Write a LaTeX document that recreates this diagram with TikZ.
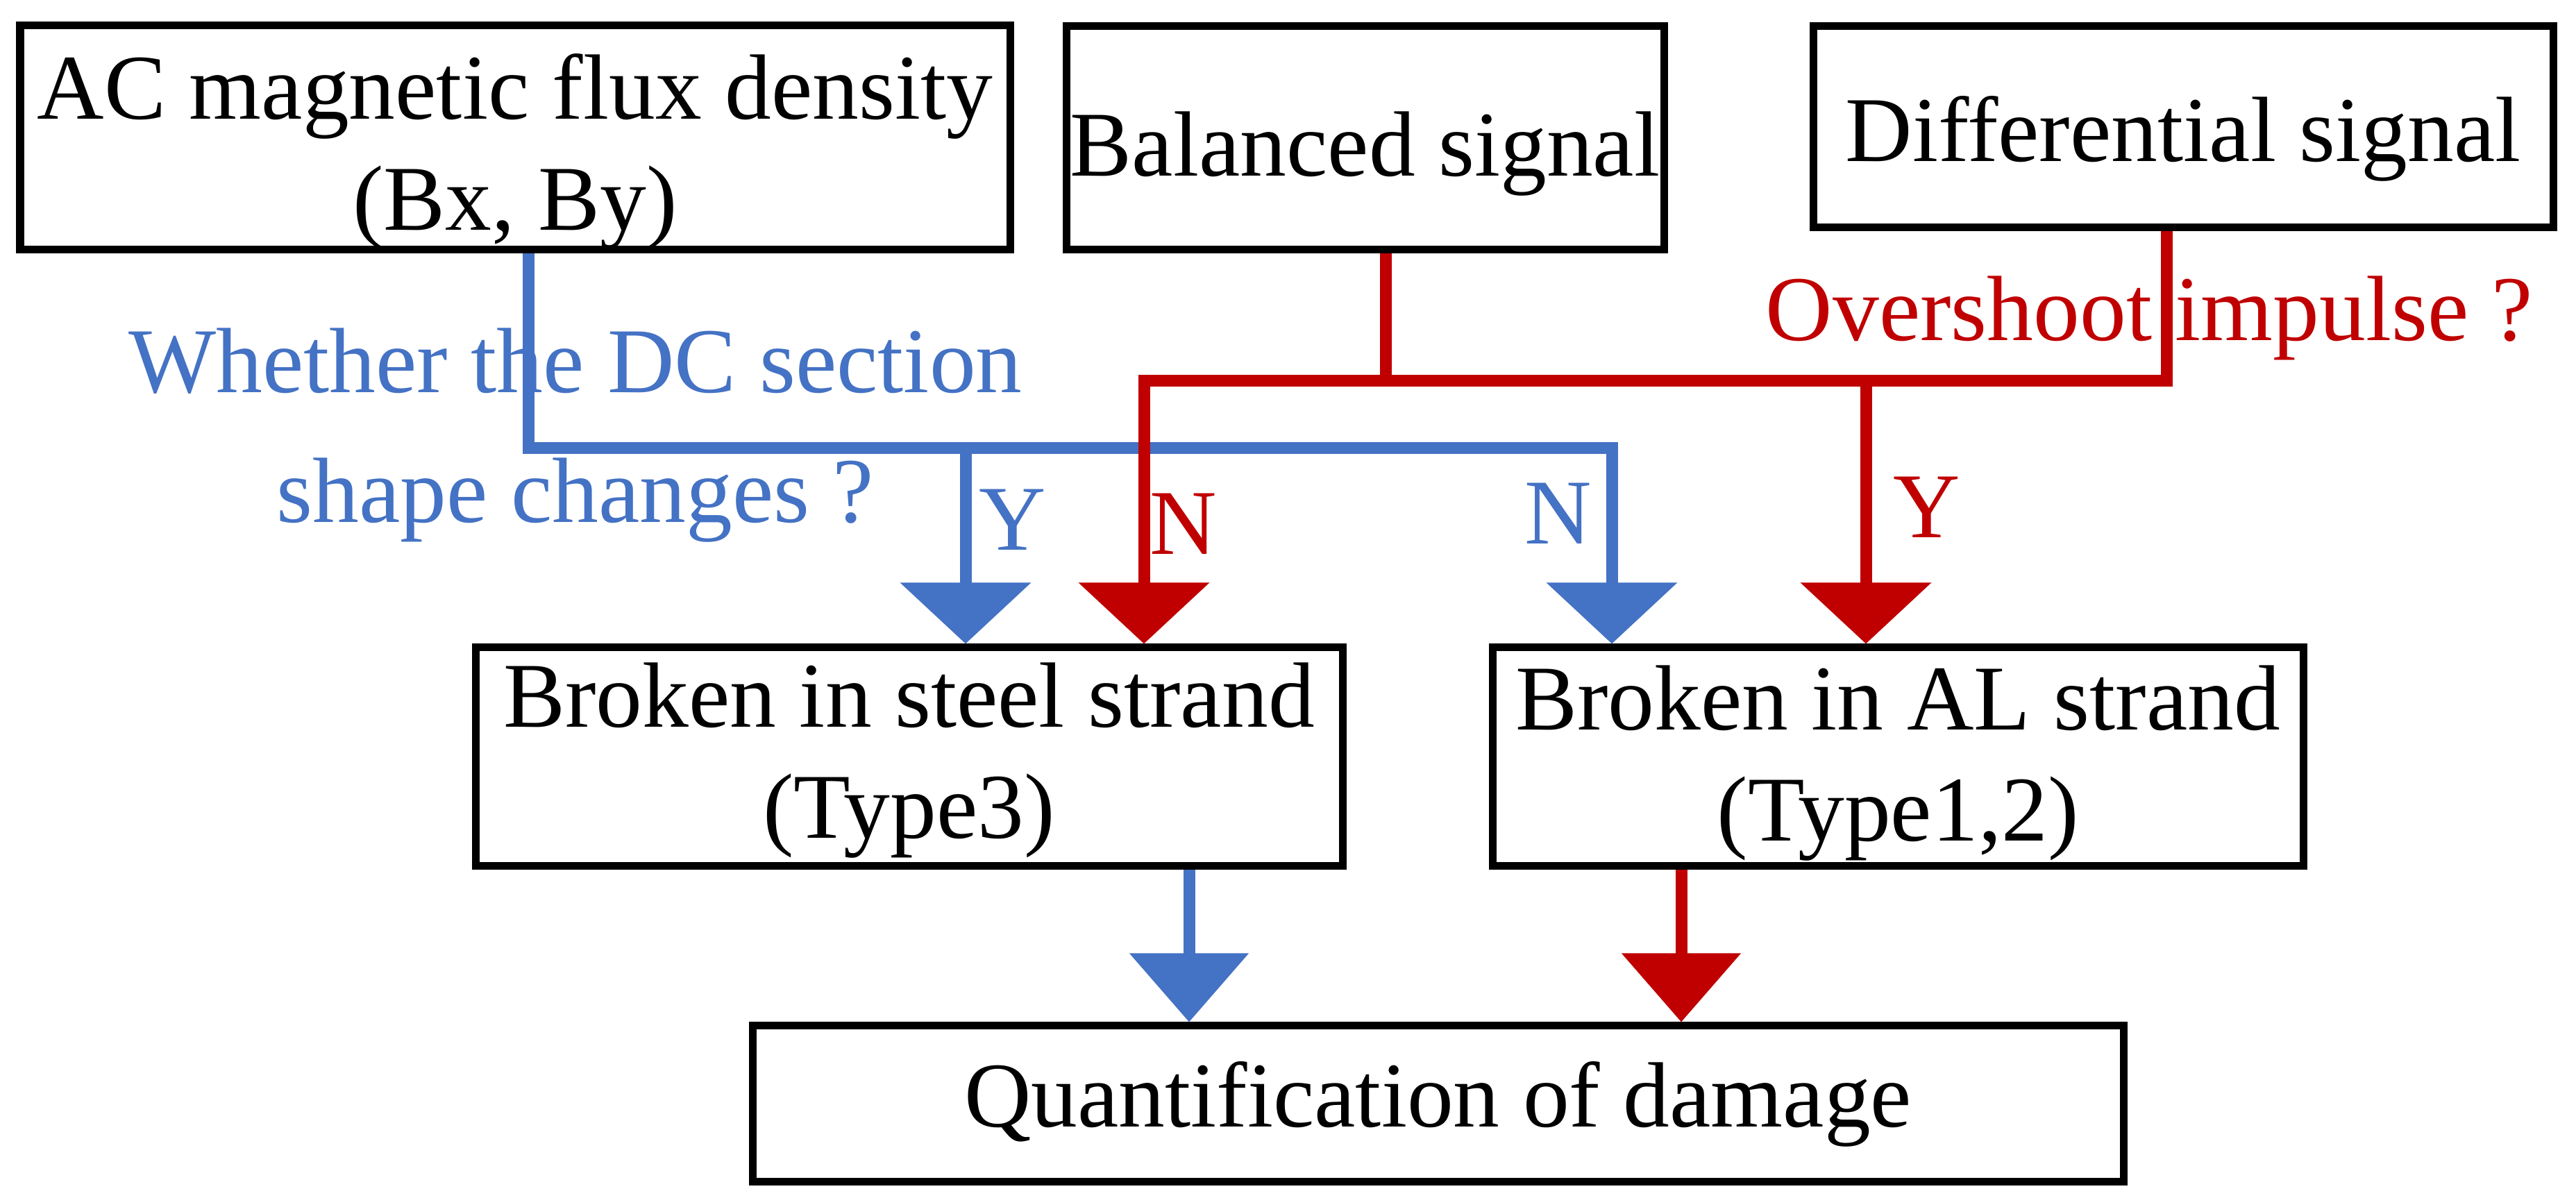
\documentclass[tikz,border=0pt]{standalone}
\usepackage{fontspec}
\setmainfont{Liberation Serif}
\usetikzlibrary{arrows.meta}
\definecolor{flowblue}{HTML}{4472C4}
\definecolor{flowred}{HTML}{C00000}

\begin{document}
\begin{tikzpicture}[
    every node/.style={font=\fontsize{38}{45.5}\selectfont},
    box/.style={draw, line width=0.11cm, inner sep=0pt, align=center},
    wire/.style={line width=0.17cm},
    tip/.style={-{Triangle[width=1.85cm,length=0.88cm]}},
    tiplow/.style={-{Triangle[width=1.68cm,length=0.99cm]}}
]
        \useasboundingbox (0,0) rectangle (37.11,17.26);
        \path (7.42,15.28) node[box, minimum width=14.26cm, minimum height=3.2cm] (AC) {\rule{0pt}{1.35cm}AC magnetic flux density\\(Bx, By)}
              (19.665,15.27) node[box, minimum width=8.61cm, minimum height=3.22cm] (Bal) {\rule{0pt}{1.37cm}Balanced signal}
              (31.45,15.43) node[box, minimum width=10.66cm, minimum height=2.9cm] (Dif) {\rule{0pt}{1.27cm}Differential signal}
              (13.095,6.355) node[box, minimum width=12.49cm, minimum height=3.15cm] (Steel) {\rule{0pt}{1.03cm}Broken in steel strand\\(Type3)}
              (27.34,6.355) node[box, minimum width=11.68cm, minimum height=3.15cm] (AL) {\rule{0pt}{1.11cm}Broken in AL strand\\(Type1,2)}
              (20.715,1.355) node[box, minimum width=19.75cm, minimum height=2.25cm] (Q) {Quantification of damage};
        % junctions
        \coordinate (bY) at (13.91,10.80);
        \coordinate (bN) at (23.22,10.80);
        \coordinate (rB) at (19.96,11.77);
        \coordinate (rN) at (16.48,11.77);
        \coordinate (rY) at (26.88,11.77);
        \coordinate (rD) at (31.21,11.77);
        \coordinate (bQ) at (17.13,0);
        \coordinate (rQ) at (24.22,0);
        % blue: DC section shape
        \draw[wire, flowblue, tip] ([xshift=0.19cm]AC.south) |- (bN) -- (bN |- AL.north);
        \draw[wire, flowblue, tip] (bY) -- (bY |- Steel.north);
        % red: overshoot
        \draw[wire, flowred] (rB |- Bal.south) -- (rB);
        \draw[wire, flowred, tip] (rD |- Dif.south) -- (rD) -- (rN) -- (rN |- Steel.north);
        \draw[wire, flowred, tip] (rY) -- (rY |- AL.north);
        % to damage
        \draw[wire, flowblue, tiplow] (bQ |- Steel.south) -- (bQ |- Q.north);
        \draw[wire, flowred, tiplow] (rQ |- AL.south) -- (rQ |- Q.north);
        % labels
        \path (8.29,10.985) node[text=flowblue, align=center] (whether) {Whether the DC section\\[0.27cm]shape changes ?}
              (30.965,12.35) node[anchor=base, text=flowred] (over) {Overshoot impulse ?}
              (14.59,9.33) node[anchor=base, text=flowblue] (yb) {Y}
              (17.05,9.27) node[anchor=base, text=flowred] (nr) {N}
              (22.45,9.42) node[anchor=base, text=flowblue] (nb) {N}
              (27.76,9.51) node[anchor=base, text=flowred] (yr) {Y};
\end{tikzpicture}
\end{document}
